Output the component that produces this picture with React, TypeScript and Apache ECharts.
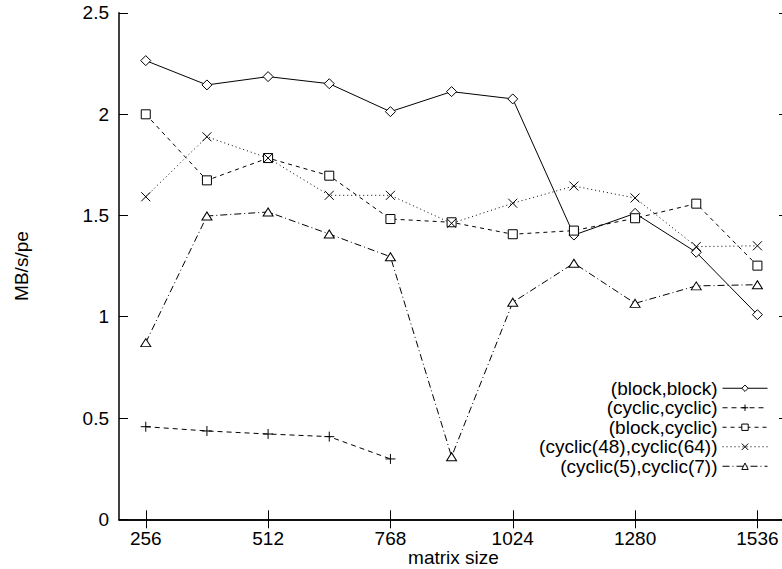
import React, { useEffect, useRef } from "react";
import * as echarts from "echarts";

const sizes = [256, 384, 512, 640, 768, 896, 1024, 1152, 1280, 1408, 1536];
const xTicks = [256, 512, 768, 1024, 1280, 1536];
const blockBlock = [2.264, 2.144, 2.185, 2.15, 2.012, 2.111, 2.075, 1.403, 1.51, 1.318, 1.01];
const cyclicCyclic = [0.457, 0.436, 0.421, 0.408, 0.298];
const blockCyclic = [1.999, 1.673, 1.783, 1.696, 1.482, 1.466, 1.407, 1.425, 1.486, 1.558, 1.252];
const cyclic48_64 = [1.592, 1.888, 1.783, 1.599, 1.599, 1.461, 1.56, 1.645, 1.586, 1.346, 1.35];
const cyclic5_7 = [0.872, 1.497, 1.517, 1.408, 1.296, 0.309, 1.071, 1.264, 1.066, 1.152, 1.158];
const seriesNames = [
  "(block,block)",
  "(cyclic,cyclic)",
  "(block,cyclic)",
  "(cyclic(48),cyclic(64))",
  "(cyclic(5),cyclic(7))",
];

const FONT = "Liberation Sans";
const PLUS = "path://M0,5L10,5M5,0L5,10";
const CROSS = "path://M0,0L10,10M10,0L0,10";
const DIAMOND = "path://M5,0L10,5L5,10L0,5Z";
const SQUARE = "path://M0,0L10,0L10,10L0,10Z";
const TRIANGLE = "path://M5,0L10,8.5L0,8.5Z";

export default function App() {
  const ref = useRef<HTMLDivElement>(null);
  useEffect(() => {
    if (!ref.current) return;
    const chart = echarts.init(ref.current, undefined, { renderer: "svg" });
    const pair = (vals: number[]) => vals.map((v, i) => [sizes[i], v]);
    const mk = (
      name: string,
      vals: number[],
      symbol: string,
      size: number | number[],
      type: any,
      closed: boolean
    ) => ({
      name,
      type: "line",
      data: pair(vals),
      symbol,
      symbolSize: size,
      showAllSymbol: true,
      lineStyle: { color: "#000", width: 1, type },
      itemStyle: { color: closed ? "#fff" : "#000", borderColor: "#000", borderWidth: 1 },
      emphasis: { disabled: true },
      z: 3,
    });
    const axisCommon = {
      axisLine: { show: true, lineStyle: { color: "#000", width: 1.5 } },
      splitLine: { show: false },
    };
    chart.setOption({
      animation: false,
      backgroundColor: "#fff",
      textStyle: { fontFamily: FONT },
      grid: { left: 119, right: 2, top: 12.8, bottom: 49.7, containLabel: false, outerBoundsMode: "none" },
      xAxis: [
        {
          type: "value",
          min: 200,
          max: 1600,
          name: "matrix size",
          nameLocation: "middle",
          nameGap: 29,
          nameMoveOverlap: false,
          nameTextStyle: { fontSize: 19, color: "#000", fontFamily: FONT },
          ...axisCommon,
          axisTick: { show: true, inside: true, length: 9, customValues: xTicks, lineStyle: { color: "#000" } },
          axisLabel: {
            show: true,
            customValues: xTicks,
            fontSize: 19,
            color: "#000",
            margin: 10,
            fontFamily: FONT,
            formatter: (v: number) => String(v),
          },
        },
        {
          type: "value",
          position: "top",
          min: 200,
          max: 1600,
          ...axisCommon,
          axisTick: { show: true, inside: true, length: 9, customValues: xTicks, lineStyle: { color: "#000" } },
          axisLabel: { show: false },
        },
      ],
      yAxis: [
        {
          type: "value",
          min: 0,
          max: 2.5,
          interval: 0.5,
          name: "MB/s/pe",
          nameLocation: "middle",
          nameGap: 88,
          nameMoveOverlap: false,
          nameTextStyle: { fontSize: 19, color: "#000", fontFamily: FONT },
          ...axisCommon,
          axisTick: { show: true, inside: true, length: 9, lineStyle: { color: "#000" } },
          axisLabel: { fontSize: 19, color: "#000", margin: 10, fontFamily: FONT, formatter: (v: number) => String(v) },
        },
        {
          type: "value",
          position: "right",
          min: 0,
          max: 2.5,
          interval: 0.5,
          axisLine: { show: false },
          splitLine: { show: false },
          axisTick: { show: true, inside: true, length: 9, lineStyle: { color: "#000" } },
          axisLabel: { show: false },
        },
      ],
      legend: {
        orient: "vertical",
        right: 22,
        top: 378.5,
        padding: 0,
        align: "right",
        itemWidth: 45,
        itemHeight: 8,
        itemGap: 0,
        lineStyle: { width: 1 },
        itemStyle: { borderWidth: 1 },
        textStyle: { fontSize: 19, color: "#000", fontFamily: FONT, lineHeight: 19.5 },
        data: seriesNames,
        selectedMode: false,
      },
      series: [
        mk(seriesNames[0], blockBlock, DIAMOND, [10, 10], "solid", true),
        mk(seriesNames[1], cyclicCyclic, PLUS, 10, [5, 4], false),
        mk(seriesNames[2], blockCyclic, SQUARE, 9, [4, 4], true),
        mk(seriesNames[3], cyclic48_64, CROSS, 9, [1, 3], false),
        mk(seriesNames[4], cyclic5_7, TRIANGLE, [10, 8], [7, 3, 1, 3], true),
      ],
    });
    return () => chart.dispose();
  }, []);
  return (
    <div style={{ position: "absolute", left: 0, top: 0, width: 782, height: 569, overflow: "hidden" }}>
      <div ref={ref} style={{ width: 790, height: 569 }} />
    </div>
  );
}
